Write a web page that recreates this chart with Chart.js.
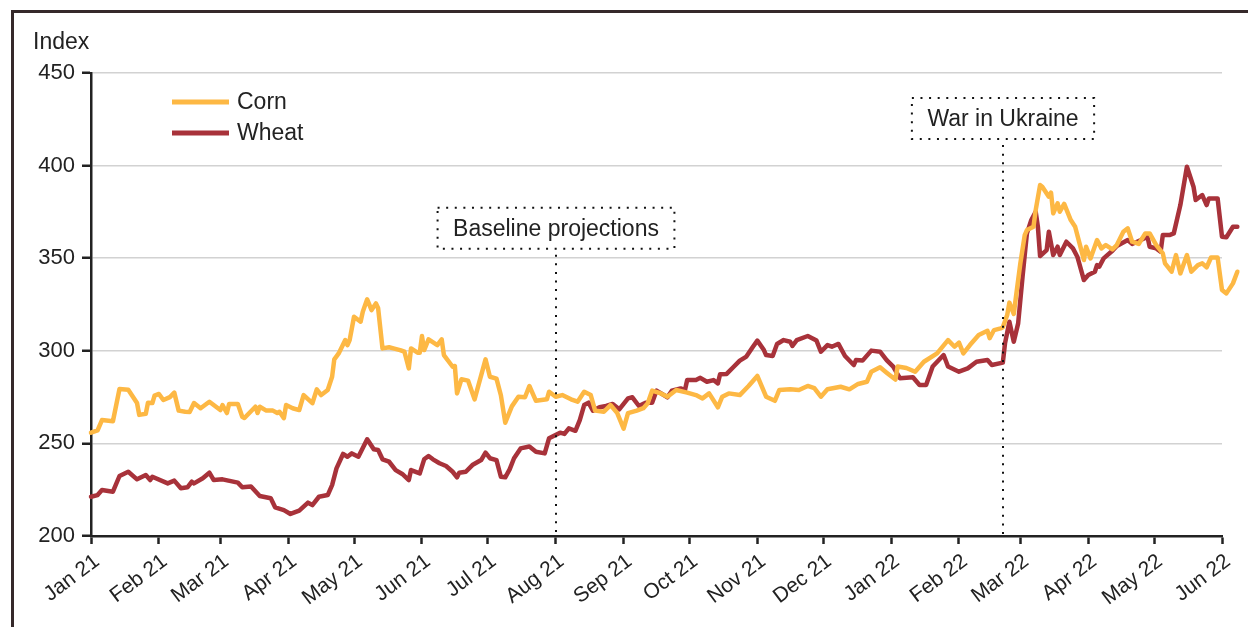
<!DOCTYPE html>
<html>
<head>
<meta charset="utf-8">
<script src="https://cdn.jsdelivr.net/npm/chart.js@4.4.1/dist/chart.umd.min.js"></script>
<style>
html,body{margin:0;padding:0;background:#fff;overflow:hidden;}
#wrap{position:relative;width:1248px;height:627px;overflow:hidden;}
#frame{position:absolute;left:11px;top:10px;width:1400px;height:800px;border-top:3px solid #35292a;border-left:3px solid #35292a;}
canvas{position:absolute;left:0;top:0;}
</style>
</head>
<body>
<div id="wrap"><div id="frame"></div><canvas id="c" width="1248" height="627"></canvas></div>
<script>
// x values are days since 1 Jan 2021
const seriesNames = ['Corn', 'Wheat'];
const seriesColors = ['#FDB844', '#A8323A'];
const cornPoints = [[0,255.8],[3,257],[5,262.6],[10,262],[13,279.4],[17,279],[21,271.8],[22,265.4],[25,266],[26,272],[28,271.8],[29,275.8],[31,276.7],[33,273.4],[36,275],[38,277.4],[40,267.7],[43,267.1],[45,267],[47,271.8],[50,269],[54,272.5],[59,268],[60,270.7],[62,266.4],[63,271.3],[67,271.3],[69,264.4],[70,263.7],[75,269.8],[76,266.4],[77,269.8],[80,267.7],[83,267.7],[85,266.4],[86,267.1],[88,263.6],[89,270.7],[92,269],[95,268],[97,276.1],[101,271.7],[103,279.2],[105,276.1],[108,278.8],[110,286],[111,295.4],[113,298.6],[116,305.8],[117,303],[118,305.8],[120,318.4],[123,315.7],[124,321.1],[126,327.8],[128,322],[130,325.6],[131,323],[133,301.3],[136,301.9],[138,301.3],[141,300.4],[143,299.5],[145,290.5],[146,301.3],[149,299],[150,299],[151,308],[152,300.4],[154,306.2],[158,303.1],[160,306.2],[161,297.7],[165,291.4],[166,291.8],[167,277],[169,284.6],[172,283.9],[175,273.8],[180,295.4],[182,286],[185,285],[187,276],[189,261.2],[192,270],[195,275.2],[198,274.9],[200,281],[203,273],[208,273.8],[209,277.9],[212,275.2],[215,276.1],[219,273.8],[222,272.5],[225,277.9],[228,276.1],[230,267.7],[234,267.1],[237,270.7],[240,266.6],[243,258],[245,266.3],[249,267.7],[252,269],[254,271.7],[256,278.5],[260,277],[263,275.2],[267,278.8],[272,277.4],[276,276.1],[279,274.3],[282,277],[286,269.5],[288,275.2],[291,277],[296,276.1],[300,281],[304,286.4],[308,275.2],[312,273],[314,278.8],[319,279.2],[323,278.8],[327,281],[330,279.8],[333,275.2],[336,279.2],[342,280.6],[346,279.2],[350,282.1],[354,283.3],[356,288.7],[360,291.1],[363,288.2],[367,284.5],[368,291.5],[372,290.7],[376,288.7],[380,294.1],[386,298.6],[391,305.8],[394,302.2],[396,304.4],[398,298.6],[401,303.1],[405,308.5],[409,310.8],[410,306.8],[412,311.2],[415,312.1],[416,312.7],[418,319.3],[419,326],[421,319.9],[422,329.2],[424,347.2],[426,362.5],[427,365.2],[430,367],[431,376],[433,389.5],[434,388.6],[437,383.2],[438,385.4],[439,374.2],[441,379.6],[442,375.1],[444,379.3],[447,370.6],[449,367],[451,358],[453,349],[454,356.2],[456,349.9],[459,359.8],[461,355.3],[463,357.1],[466,354.8],[468,357.1],[471,364.3],[473,366.1],[475,358.9],[478,357.7],[481,363.4],[483,363.4],[486,357.1],[489,352.6],[490,347.2],[493,342.7],[495,351.7],[497,341.8],[500,351.7],[502,342.7],[505,346.3],[507,347.2],[509,345.1],[511,350.4],[514,350.4],[516,332.8],[518,331],[521,336.4],[523,342.7]];
const wheatPoints = [[0,221.2],[3,222.1],[5,224.8],[10,223.9],[13,232.4],[17,234.7],[21,230.6],[25,232.9],[27,230.2],[28,232],[35,228.4],[38,229.9],[41,225.8],[44,226.3],[46,229.3],[47,228.4],[51,231.2],[54,234.2],[56,230.2],[60,230.6],[67,228.8],[69,226.3],[73,226.7],[77,221.6],[82,220.4],[84,215.5],[88,214],[91,211.9],[95,213.7],[99,218],[101,216.7],[104,221.2],[108,222.1],[110,227.5],[112,236.5],[115,244.3],[117,242.8],[119,244.6],[122,242.8],[126,252.2],[129,246.8],[131,246.4],[133,241.4],[136,240.1],[139,235.6],[142,233.5],[145,230.2],[146,235.6],[150,233.8],[152,241.4],[154,243.2],[156,241.4],[159,239.3],[162,237.8],[165,234.7],[167,231.7],[168,234.2],[171,234.7],[174,238.3],[178,241],[180,245],[182,242],[185,241],[187,232],[189,231.7],[191,236],[193,242],[196,247.3],[200,248.3],[203,245.5],[207,244.6],[209,252.8],[214,255.8],[216,255.1],[218,258.1],[221,256.8],[223,262.6],[225,270.7],[227,272],[229,267.7],[232,269.5],[235,270.2],[238,271.3],[241,268.4],[245,274.3],[247,274.9],[250,270.2],[253,272],[256,272],[258,278.5],[263,274.9],[265,278.5],[269,279.7],[271,278.8],[272,284.2],[276,284.2],[278,285.4],[281,283.3],[284,284.2],[286,282.4],[287,287.3],[290,287.5],[293,291.1],[296,294.7],[299,296.9],[302,302.2],[304,305.5],[307,300.4],[308,297.7],[311,297.2],[313,303.7],[316,305.8],[319,304.9],[320,302.6],[322,305.8],[327,308],[331,305.5],[333,299.5],[336,303.1],[338,302.2],[341,303.7],[344,297.2],[348,292.3],[349,295],[352,294.7],[356,300.1],[360,299.5],[363,295],[366,291.5],[369,285.2],[375,285.7],[378,281.5],[381,281.5],[384,291.5],[389,297.7],[391,291.5],[396,288.7],[400,290.5],[404,294.1],[409,295],[411,292.3],[416,293.6],[417,304],[419,315.7],[421,304.9],[423,314.8],[425,340],[427,363.4],[429,370.6],[431,375.1],[432,367],[433,351.2],[436,354.4],[437,364.3],[439,351.7],[441,356.2],[442,351.7],[445,358.9],[448,355.3],[450,350.8],[453,338.2],[455,340.9],[458,342.7],[459,346.3],[460,345.4],[462,349.9],[466,354],[468,356.6],[473,359.8],[475,357.7],[479,359.8],[482,361.6],[483,356.2],[486,355.3],[488,353.5],[489,362.5],[492,362.5],[494,363.4],[497,378.7],[500,399.4],[503,388.6],[504,381.4],[507,384.1],[509,378.7],[510,382.3],[514,382.3],[516,361.6],[518,361.3],[521,367],[523,367]];
const monthTickDays = [0,31,59,90,120,151,181,212,243,273,304,334,365,396,424,455,485,516];
const monthTickLabels = ['Jan 21','Feb 21','Mar 21','Apr 21','May 21','Jun 21','Jul 21','Aug 21','Sep 21','Oct 21','Nov 21','Dec 21','Jan 22','Feb 22','Mar 22','Apr 22','May 22','Jun 22'];
const yTickValues = [200,250,300,350,400,450];
const eventDays = [212, 416];
const eventLabels = ['Baseline projections', 'War in Ukraine'];
const yAxisTitle = 'Index';

const FAM = "'Liberation Sans', Arial, Helvetica, sans-serif";
const TXT = '#222';
const X_MIN = monthTickDays[0];
const X_MAX = monthTickDays[monthTickDays.length - 1];

const overlay = {
  id: 'overlay',
  afterDatasetsDraw(chart) {
    const {ctx, chartArea: a, scales: {x, y}} = chart;
    const boxCenters = [366.2, 425.4]; // box vertical centres in axis units
    ctx.save();
    eventDays.forEach((d, i) => {
      const px = Math.round(x.getPixelForValue(d));
      const cy = y.getPixelForValue(boxCenters[i]);
      ctx.font = '23px ' + FAM;
      const tw = ctx.measureText(eventLabels[i]).width;
      const w = tw + 31, h = 41;
      const left = px - w / 2, top = cy - h / 2;
      ctx.strokeStyle = '#111';
      ctx.lineWidth = 2;
      ctx.setLineDash([2, 6.6]);
      ctx.beginPath();
      ctx.moveTo(px, top + h + 6);
      ctx.lineTo(px, a.bottom);
      ctx.stroke();
      ctx.strokeRect(left, top, w, h);
      ctx.setLineDash([]);
      ctx.fillStyle = TXT;
      ctx.textAlign = 'center';
      ctx.textBaseline = 'middle';
      ctx.fillText(eventLabels[i], px, cy + 1);
    });
    ctx.restore();
  },
  afterDraw(chart) {
    const {ctx, chartArea: a} = chart;
    ctx.save();
    ctx.font = '23px ' + FAM;
    ctx.fillStyle = TXT;
    ctx.textAlign = 'left';
    ctx.textBaseline = 'alphabetic';
    ctx.fillText(yAxisTitle, 33, 49);
    chart.data.datasets.forEach((ds, i) => {
      const ly = a.top + 29 + i * 31;
      const lx = a.left + 81;
      ctx.strokeStyle = ds.borderColor;
      ctx.lineWidth = 5;
      ctx.beginPath();
      ctx.moveTo(lx, ly);
      ctx.lineTo(lx + 57, ly);
      ctx.stroke();
      ctx.fillStyle = TXT;
      ctx.textBaseline = 'middle';
      ctx.fillText(ds.label, lx + 65, ly + 1);
    });
    ctx.restore();
  }
};

const toXY = pts => pts.map(p => ({x: p[0], y: p[1]}));
const setXRange = s => { s.min = X_MIN; s.max = X_MAX; };

new Chart(document.getElementById('c').getContext('2d'), {
  type: 'line',
  data: {
    datasets: [
      {label: seriesNames[0], data: toXY(cornPoints), borderColor: seriesColors[0], borderWidth: 4.5, pointRadius: 0, tension: 0, clip: false, borderJoinStyle: 'round', borderCapStyle: 'round'},
      {label: seriesNames[1], data: toXY(wheatPoints), borderColor: seriesColors[1], borderWidth: 4.5, pointRadius: 0, tension: 0, clip: false, borderJoinStyle: 'round', borderCapStyle: 'round'}
    ]
  },
  options: {
    responsive: false,
    animation: false,
    devicePixelRatio: 1,
    layout: {padding: {left: 0, right: 26, top: 73, bottom: 0}},
    plugins: {legend: {display: false}, tooltip: {enabled: false}},
    scales: {
      x: {
        type: 'linear',
        bounds: 'data',
        afterDataLimits: setXRange,
        afterBuildTicks: s => { setXRange(s); s.ticks = monthTickDays.map(v => ({value: v})); },
        afterFit: s => { s.height = 91; },
        ticks: {
          autoSkip: false,
          minRotation: 37, maxRotation: 37,
          padding: 5,
          labelOffset: 6,
          color: TXT,
          font: {family: FAM, size: 21},
          callback: v => monthTickLabels[monthTickDays.indexOf(v)]
        },
        grid: {drawOnChartArea: false, tickLength: 8, tickColor: '#222', tickWidth: 2.5},
        border: {color: '#222', width: 2.5}
      },
      y: {
        min: 200, max: 450,
        afterBuildTicks: s => { s.ticks = yTickValues.map(v => ({value: v})); },
        afterFit: s => { s.width = 91; },
        ticks: {color: TXT, padding: 7, font: {family: FAM, size: 22}},
        grid: {color: '#d2d2d2', lineWidth: 1.5, tickLength: 9, tickColor: '#222', tickWidth: 2.5},
        border: {color: '#222', width: 2.5}
      }
    }
  },
  plugins: [overlay]
});
</script>
</body>
</html>
